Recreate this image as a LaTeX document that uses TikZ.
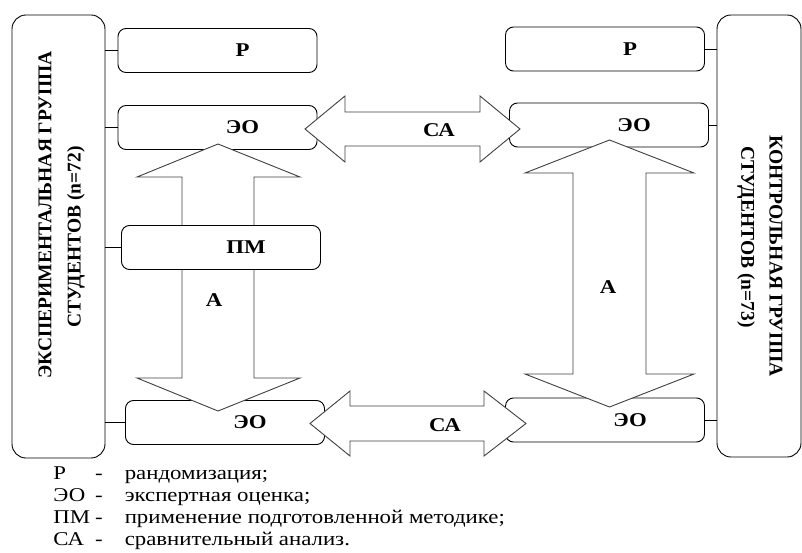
\documentclass[tikz,border=0pt]{standalone}
\usepackage{fontspec}
\setmainfont{Liberation Serif}
\newfontfamily\widefont[FakeStretch=1.17]{Liberation Serif}
\usepackage{tikz}
\usetikzlibrary{calc}

\tikzset{
  grp/.style={draw, rounded corners=14pt, inner sep=0pt},
  stage/.style={draw, fill=white, rounded corners=8pt, inner sep=0pt,
    minimum width=199pt, minimum height=44pt},
  tag/.style={font=\widefont\fontsize{19.5}{22}\selectfont\bfseries},
  side/.style={font=\fontsize{19.5}{30}\selectfont\bfseries},
  blockarrow/.style={draw=black!75, fill=white, line join=miter},
}

\begin{document}
\begin{tikzpicture}[x=1pt,y=-1pt,line width=0.9pt]
    \useasboundingbox (0,0) rectangle (802,553);

    % Groups
    \node[grp, minimum width=93pt, minimum height=443pt] (grpL) at (58.5,236.5) {};
    \node[grp, minimum width=84pt, minimum height=442pt] (grpR) at (759,236) {};
    \node[side, rotate=90] (grpLa) at (45,215) {ЭКСПЕРИМЕНТАЛЬНАЯ ГРУППА};
    \node[side, rotate=90] (grpLb) at (76,237) {СТУДЕНТОВ (n=72)};
    \node[side, rotate=-90] (grpRa) at (776,256) {КОНТРОЛЬНАЯ ГРУППА};
    \node[side, rotate=-90] (grpRb) at (746,237) {СТУДЕНТОВ (n=73)};

    % Experimental side
    \node[stage, label={[tag,xshift=25pt]center:Р}] (rL) at (217.5,50.5) {};
    \node[stage, label={[tag,xshift=25pt]center:ЭО}] (eoTL) at (217.5,127.5) {};
    \node[stage, label={[tag,xshift=25pt]center:ЭО}] (eoBL) at (225,422.5) {};

    % Control side
    \node[stage, label={[tag,xshift=25pt]center:Р}] (rR) at (605,49) {};
    \node[stage, label={[tag,xshift=25pt]center:ЭО}] (eoTR) at (609,125) {};
    \node[stage, label={[tag,xshift=25pt]center:ЭО}] (eoBR) at (605,420) {};

    % CA arrows
    \draw[blockarrow] (305,129) -- (345,96) -- (345,112) -- (480,112) -- (480,96) -- (520,129)
        -- (480,162) -- (480,146) -- (345,146) -- (345,162) -- cycle;
    \draw[blockarrow] (310,423.5) -- (350,391) -- (350,406) -- (484,406) -- (484,391) -- (526,423.5)
        -- (484,456) -- (484,441) -- (350,441) -- (350,456) -- cycle;
    \node[tag] (caT) at (439,130) {СА};
    \node[tag] (caB) at (445,425) {СА};

    % A arrows
    \draw[blockarrow] (218,144) -- (300,177) -- (254,177) -- (254,378) -- (300,378) -- (218,411)
        -- (137,378) -- (182,378) -- (182,177) -- (137,177) -- cycle;
    \draw[blockarrow] (609.5,140) -- (694,173) -- (646,173) -- (646,374) -- (694,374) -- (609.5,407)
        -- (525,374) -- (573,374) -- (573,173) -- (525,173) -- cycle;
    \node[tag] (aL) at (214,300) {А};
    \node[tag] (aR) at (608,287) {А};

    \node[stage, label={[tag,xshift=25pt]center:ПМ}] (pm) at (221,247.5) {};

    % links to groups
    \foreach \s in {rL,eoTL,pm,eoBL}
        \draw (grpL.east |- \s.west) -- (\s.west);
    \foreach \s in {rR,eoTR,eoBR}
        \draw (\s.east) -- (grpR.west |- \s.east);

    % Key
    \node[anchor=north west, inner sep=0pt, font=\widefont\fontsize{19.5}{22}\selectfont] (key) at (53,464) {%
        \begin{tabular}{@{}l@{\hspace{5pt}}l@{\hspace{22pt}}l@{}}
        Р & - & рандомизация;\\
        ЭО & - & экспертная оценка;\\
        ПМ & - & применение подготовленной методике;\\
        СА & - & сравнительный анализ.
        \end{tabular}};
\end{tikzpicture}
\end{document}
